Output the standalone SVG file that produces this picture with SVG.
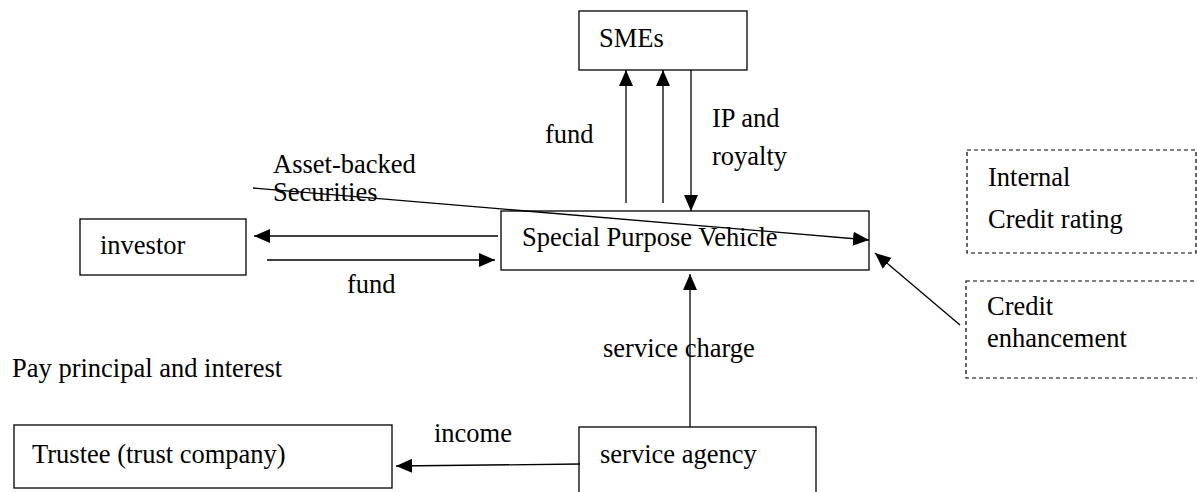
<svg xmlns="http://www.w3.org/2000/svg" width="1197" height="492" viewBox="0 0 1197 492">
<style>
text{font-family:"Liberation Serif","Times New Roman",serif;font-size:26.5px;fill:#000}
.box{fill:#fff;stroke:#000;stroke-width:1.3}
.dash{fill:none;stroke:#000;stroke-width:1.2;stroke-dasharray:4 3}
.c{fill:none;stroke:#000;stroke-width:1.3;marker-end:url(#ah)}
</style>
<defs>
<marker id="ah" markerUnits="userSpaceOnUse" markerWidth="17" markerHeight="15" refX="16" refY="7" orient="auto">
<path d="M0,0 L16,7 L0,14 z" fill="#000"/>
</marker>
</defs>
<rect width="1197" height="492" fill="#fff"/>
<g id="smes"><rect class="box" x="579" y="11" width="168" height="59"/><text x="599" y="47">SMEs</text></g>
<g id="spv"><rect class="box" x="501" y="211" width="368" height="59"/><text x="522" y="246">Special Purpose Vehicle</text></g>
<g id="investor"><rect class="box" x="80" y="219" width="166" height="56"/><text x="100" y="254">investor</text></g>
<g id="trustee"><rect class="box" x="14" y="425" width="378" height="63"/><text x="32" y="463">Trustee (trust company)</text></g>
<g id="service-agency"><rect class="box" x="579" y="427" width="237" height="75"/><text x="600" y="463">service agency</text></g>
<g id="internal-rating"><rect class="dash" x="967" y="150" width="229" height="103"/><text x="988" y="186">Internal</text><text x="988" y="228">Credit rating</text></g>
<g id="credit-enhancement"><rect class="dash" x="966" y="281" width="240" height="97"/><text x="987" y="315">Credit</text><text x="987" y="347">enhancement</text></g>
<g id="connectors">
<line class="c" x1="626" y1="203" x2="626" y2="70"/>
<line class="c" x1="663" y1="203" x2="663" y2="70"/>
<line class="c" x1="691" y1="70" x2="691" y2="211"/>
<line class="c" x1="253" y1="188" x2="869" y2="240"/>
<line class="c" x1="498" y1="236" x2="254" y2="236"/>
<line class="c" x1="267" y1="260" x2="495" y2="260"/>
<line class="c" x1="960" y1="325" x2="875" y2="253"/>
<line class="c" x1="690" y1="427" x2="690" y2="274"/>
<line class="c" x1="580" y1="464" x2="396" y2="466"/>
</g>
<g id="labels">
<text x="545" y="143">fund</text>
<text x="712" y="127">IP and</text>
<text x="712" y="165">royalty</text>
<text x="273" y="173">Asset-backed</text>
<text x="273" y="201">Securities</text>
<text x="347" y="293">fund</text>
<text x="603" y="357">service charge</text>
<text x="12" y="377">Pay principal and interest</text>
<text x="434" y="442">income</text>
</g>
</svg>
